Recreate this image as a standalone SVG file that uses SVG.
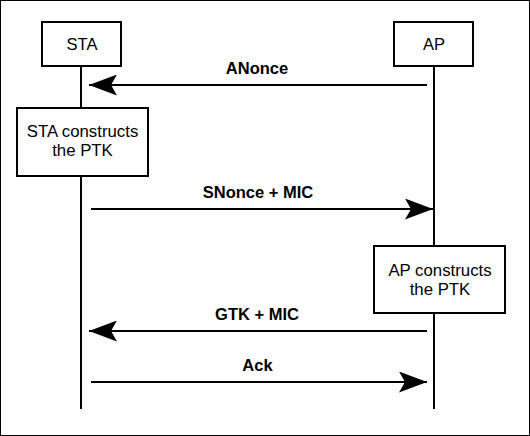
<svg xmlns="http://www.w3.org/2000/svg" width="530" height="436" viewBox="0 0 530 436">
<style>
.box{fill:#fff;stroke:#000;stroke-width:2}
.life{stroke:#000;stroke-width:2}
.msg{stroke:#000;stroke-width:2;fill:none}
.t{font-family:"Liberation Sans",Arial,sans-serif;font-size:16.8px;text-anchor:middle;fill:#000}
.h{font-size:16.5px}
.lbl{font-family:"Liberation Sans",Arial,sans-serif;font-size:16.5px;font-weight:bold;text-anchor:middle;fill:#000}
</style>
<defs>
<marker id="ah" markerWidth="28" markerHeight="21" refX="28" refY="10.5" orient="auto" markerUnits="userSpaceOnUse">
<path d="M0,0 L28,10.5 L0,21 L6,10.5 Z" fill="#000"/>
</marker>
</defs>
<rect x="0.5" y="0.5" width="529" height="435" fill="#fff" stroke="#000" stroke-width="1"/>
<g id="lifelines">
<line class="life" x1="81" y1="66" x2="81" y2="409"/>
<line class="life" x1="434" y1="66" x2="434" y2="409"/>
</g>
<g id="connectors">
<line class="msg" x1="427" y1="85" x2="89" y2="85" marker-end="url(#ah)"/>
<text class="lbl" x="257" y="74">ANonce</text>
<line class="msg" x1="91" y1="209" x2="433" y2="209" marker-end="url(#ah)"/>
<text class="lbl" x="258" y="198">SNonce + MIC</text>
<line class="msg" x1="427" y1="331" x2="89" y2="331" marker-end="url(#ah)"/>
<text class="lbl" x="257" y="320">GTK + MIC</text>
<line class="msg" x1="91" y1="382" x2="427" y2="382" marker-end="url(#ah)"/>
<text class="lbl" x="257.5" y="371">Ack</text>
</g>
<g id="sta">
<rect class="box" x="42" y="22" width="79" height="44"/>
<text class="t h" x="82" y="50">STA</text>
</g>
<g id="ap">
<rect class="box" x="394" y="22" width="79" height="44"/>
<text class="t h" x="434" y="50">AP</text>
</g>
<g id="sta-ptk">
<rect class="box" x="17" y="108" width="131" height="68"/>
<text class="t" x="82.5" y="137">STA constructs</text>
<text class="t" x="82.5" y="156">the PTK</text>
</g>
<g id="ap-ptk">
<rect class="box" x="374" y="246" width="131" height="67"/>
<text class="t" x="440" y="276">AP constructs</text>
<text class="t" x="440" y="295">the PTK</text>
</g>
</svg>
